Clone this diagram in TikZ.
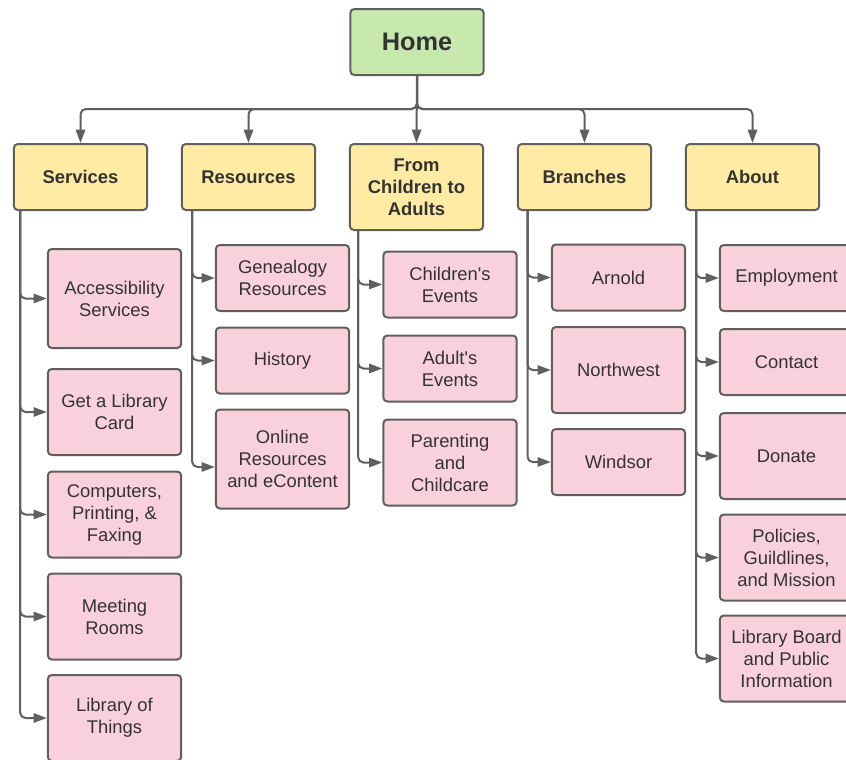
\documentclass[tikz,border=0pt]{standalone}
\usepackage{fontspec}
\setmainfont{Liberation Sans}
\usetikzlibrary{arrows.meta}
\definecolor{homefill}{HTML}{C7E9AE}
\definecolor{headfill}{HTML}{FFEBA3}
\definecolor{leaffill}{HTML}{F9D1DC}
\definecolor{edge}{HTML}{5F5F5F}
\definecolor{ink}{HTML}{333333}
\tikzset{
  box/.style={draw=edge,line width=1.5pt,rounded corners=3pt,inner sep=0pt,
    minimum width=100pt,minimum height=49.5pt,align=center,text=ink,
    font=\fontsize{13.8}{16.5}\selectfont},
  homebox/.style={box,fill=homefill,font=\fontsize{19}{22}\selectfont\bfseries},
  headbox/.style={box,fill=headfill,font=\fontsize{13.8}{16.5}\selectfont\bfseries},
  leafbox/.style={box,fill=leaffill},
  tall/.style={minimum height=64.5pt},
  taller/.style={minimum height=74.25pt},
  link/.style={draw=edge,line width=1.5pt,rounded corners=4pt,
    -{Triangle[length=10pt,width=7pt]}},
}
\begin{document}
\begin{tikzpicture}[x=0.75pt,y=-0.75pt]
\useasboundingbox (0,0) rectangle (846,760);
\clip (0,0) rectangle (846,760);
%top
\node[homebox] (home) at (417,42) {Home};
\node[headbox] (svc) at (80.5,177) {Services};
\node[headbox] (res) at (248.5,177) {Resources};
\node[headbox,tall] (kids) at (416.5,187) {From\\Children to\\Adults};
\node[headbox] (branch) at (584.5,177) {Branches};
\node[headbox] (about) at (752.5,177) {About};
\draw[link] (home.south) -- ++(0,33) -| (svc.north);
\draw[link] (home.south) -- ++(0,33) -| (res.north);
\draw[link] (home.south) -- (kids.north);
\draw[link] (home.south) -- ++(0,33) -| (branch.north);
\draw[link] (home.south) -- ++(0,33) -| (about.north);
%services
\node[leafbox,taller] (acc) at (114.5,298.5) {Accessibility\\Services};
\node[leafbox,tall] (card) at (114.5,412) {Get a Library\\Card};
\node[leafbox,tall] (comp) at (114.5,514.5) {Computers,\\Printing, \&\\Faxing};
\node[leafbox,tall] (meet) at (114.5,616.5) {Meeting\\Rooms};
\node[leafbox,tall] (things) at (114.5,718) {Library of\\Things};
\coordinate (svcline) at ([xshift=5.5pt]svc.south west);
\draw[link] (svcline) |- (acc.west);
\draw[link] (svcline) |- (card.west);
\draw[link] (svcline) |- (comp.west);
\draw[link] (svcline) |- (meet.west);
\draw[link] (svcline) |- (things.west);
%resources
\node[leafbox] (gen) at (282.5,278) {Genealogy\\Resources};
\node[leafbox] (hist) at (282.5,360.5) {History};
\node[leafbox,taller] (online) at (282.5,459) {Online\\Resources\\and eContent};
\coordinate (resline) at ([xshift=8.5pt]res.south west);
\draw[link] (resline) |- (gen.west);
\draw[link] (resline) |- (hist.west);
\draw[link] (resline) |- ([yshift=-6pt]online.west);
%children to adults
\node[leafbox] (cev) at (450,284.5) {Children\textquotesingle s\\Events};
\node[leafbox] (aev) at (450,368.5) {Adult\textquotesingle s\\Events};
\node[leafbox,tall] (parent) at (450,462.5) {Parenting\\and\\Childcare};
\coordinate (kidsline) at ([xshift=7pt]kids.south west);
\draw[link] (kidsline) |- (cev.west);
\draw[link] (kidsline) |- (aev.west);
\draw[link] (kidsline) |- (parent.west);
%branches
\node[leafbox] (arnold) at (618.5,277.5) {Arnold};
\node[leafbox,tall] (nw) at (618.5,370) {Northwest};
\node[leafbox] (windsor) at (618.5,462) {Windsor};
\coordinate (branchline) at ([xshift=8pt]branch.south west);
\draw[link] (branchline) |- (arnold.west);
\draw[link] (branchline) |- (nw.west);
\draw[link] (branchline) |- (windsor.west);
%about
\node[leafbox] (job) at (786.5,278) {Employment};
\node[leafbox] (contact) at (786.5,362) {Contact};
\node[leafbox,tall] (donate) at (786.5,456) {Donate};
\node[leafbox,tall] (policy) at (786.5,557.5) {Policies,\\Guildlines,\\and Mission};
\node[leafbox,tall] (board) at (786.5,658.5) {Library Board\\and Public\\Information};
\coordinate (aboutline) at ([xshift=8.5pt]about.south west);
\draw[link] (aboutline) |- (job.west);
\draw[link] (aboutline) |- (contact.west);
\draw[link] (aboutline) |- (donate.west);
\draw[link] (aboutline) |- (policy.west);
\draw[link] (aboutline) |- (board.west);
\end{tikzpicture}
\end{document}
